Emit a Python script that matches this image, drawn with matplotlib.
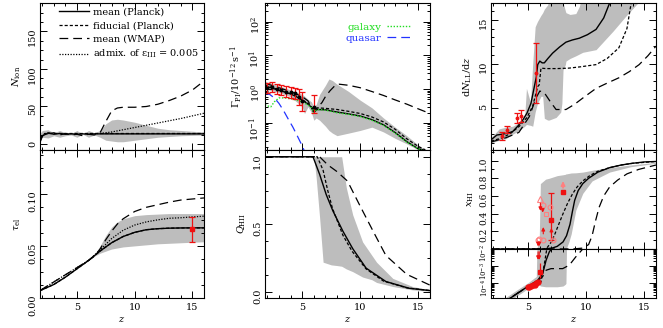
import numpy as np
import matplotlib
matplotlib.use('Agg')
import matplotlib.pyplot as plt
from matplotlib.ticker import MultipleLocator, LogLocator, NullFormatter, FixedLocator

plt.rcParams['font.family'] = 'DejaVu Serif'
plt.rcParams['mathtext.fontset'] = 'dejavuserif'
plt.rcParams['font.size'] = 7

GREY = '#bdbdbd'
RED = '#ee1111'
PINK = '#ff8080'
SD = (0, (2.5, 1.6))      # short dash (fiducial)
LD = (0, (7, 4))          # long dash (WMAP)
DT = (0, (1, 1.2))        # dotted

# ---------------- N_ion ----------------
nion_band_z = [1.8, 2.0, 2.5, 3.0, 3.5, 4.0, 4.5, 5.0, 5.5, 6.0, 6.5, 7.0, 7.5, 8.0, 8.5, 9.0, 10, 11, 12, 13, 14, 15, 16]
nion_band_hi = [14, 18, 19, 15, 18, 15, 14, 18, 13, 18, 15, 18, 27, 32, 33, 32, 29, 25, 21, 19, 18, 17, 16]
nion_band_lo = [8, 9, 8, 11, 9, 11, 12, 9, 13, 9, 12, 9, 5, 4, 3, 3, 5, 7, 9, 10, 11, 11.5, 12]
nion_mean_z = [1.8, 2.0, 2.3, 2.6, 3.0, 3.5, 4.0, 4.5, 5.0, 5.5, 6.0, 6.5, 7.0, 8, 10, 12, 14, 16]
nion_mean = [4, 11, 13, 14.5, 13, 14, 13, 13.5, 13, 13.5, 13, 13.5, 13.5, 13.5, 13.5, 13.5, 13.5, 13.5]
nion_fid_z = [1.8, 2.2, 3, 4, 5, 6, 7, 10, 16]
nion_fid = [9, 14, 14, 14, 14, 14, 14, 14, 14]
nion_wmap_z = [1.8, 2.0, 2.3, 2.7, 3.0, 3.5, 4.0, 4.5, 5.0, 5.5, 6.0, 6.5, 7.0, 7.5, 8.0, 8.5, 9, 10, 11, 12, 13, 14, 15, 16]
nion_wmap = [2, 10, 16, 14, 15, 12, 14, 12, 13, 11, 13, 12, 15, 30, 44, 48, 49, 49, 50, 53, 58, 64, 72, 84]
nion_admix_z = [7.0, 8, 10, 12, 14, 16]
nion_admix = [14, 16, 22, 28, 34, 41]

# ---------------- tau_el ----------------
tau_z = [1.8, 2.0, 3, 4, 5, 6, 7, 8, 9, 10, 11, 12, 13, 14, 15, 16]
tau_mean = [0.0072, 0.0080, 0.013, 0.020, 0.028, 0.036, 0.045, 0.053, 0.059, 0.063, 0.0655, 0.0665, 0.067, 0.0672, 0.0673, 0.0673]
tau_wmap_z = [1.8, 6.0, 6.5, 7, 7.5, 8, 8.5, 9, 10, 11, 12, 13, 14, 15, 16]
tau_wmap = [0.0072, 0.036, 0.040, 0.047, 0.056, 0.064, 0.071, 0.076, 0.083, 0.087, 0.0895, 0.092, 0.094, 0.095, 0.096]
tau_admix_z = [1.8, 6.0, 7, 8, 9, 10, 11, 12, 13, 14, 15, 16]
tau_admix = [0.0072, 0.036, 0.046, 0.057, 0.065, 0.070, 0.073, 0.075, 0.0765, 0.077, 0.0778, 0.0785]
tau_band_z = [6.5, 7, 7.5, 8, 8.5, 9, 10, 11, 12, 13, 14, 15, 16]
tau_band_hi = [0.041, 0.050, 0.060, 0.068, 0.073, 0.076, 0.079, 0.080, 0.0805, 0.081, 0.081, 0.081, 0.081]
tau_band_lo = [0.040, 0.043, 0.045, 0.047, 0.048, 0.049, 0.050, 0.051, 0.052, 0.0525, 0.053, 0.0535, 0.054]
tau_obs_z, tau_obs, tau_obs_err = [15.0], [0.066], [0.012]

# ---------------- Gamma_PI ----------------
gam_fid_z = [1.8, 2.5, 3.0, 3.5, 4.0, 4.5, 5.0, 5.5, 5.8, 6.0, 6.15, 6.3, 7, 8, 9, 10, 11, 12, 13, 14, 15, 15.6]
gam_fid = [1.3, 1.1, 0.95, 0.85, 0.74, 0.62, 0.49, 0.38, 0.3, 0.21, 0.25, 0.28, 0.27, 0.25, 0.22, 0.19, 0.15, 0.107, 0.065, 0.034, 0.02, 0.016]
gam_mean_z = [1.8, 2.5, 3.0, 3.5, 4.0, 4.5, 5.0, 5.5, 5.8, 6.0, 6.15, 6.3, 7, 8, 9, 10, 11, 12, 13, 14, 15, 15.4]
gam_mean = [1.25, 1.05, 0.92, 0.82, 0.72, 0.6, 0.47, 0.36, 0.29, 0.2, 0.23, 0.25, 0.245, 0.21, 0.185, 0.16, 0.125, 0.088, 0.052, 0.028, 0.017, 0.016]
gam_gal_z = [1.8, 2.0, 2.3, 2.6, 3.0, 3.5, 4.0, 4.5, 5.0, 5.5, 5.8, 6.0, 6.15, 6.3, 7, 8, 9, 10, 11, 12, 13, 14, 15, 15.3]
gam_gal = [0.35, 0.32, 0.30, 0.42, 0.55, 0.55, 0.52, 0.48, 0.42, 0.34, 0.28, 0.2, 0.23, 0.25, 0.24, 0.2, 0.18, 0.155, 0.12, 0.085, 0.05, 0.027, 0.017, 0.016]
gam_qso_z = [1.8, 2.2, 2.6, 3.0, 3.4, 3.8, 4.2, 4.6, 5.0, 5.3]
gam_qso = [0.75, 0.7, 0.55, 0.38, 0.23, 0.13, 0.075, 0.04, 0.021, 0.012]
gam_wmap_z = [1.8, 3, 4, 5, 5.5, 6.0, 6.3, 6.7, 7.0, 7.4, 7.8, 8.2, 9, 10, 11, 12, 13, 14, 15, 16]
gam_wmap = [1.5, 1.1, 0.85, 0.6, 0.45, 0.22, 0.28, 0.4, 0.6, 0.9, 1.25, 1.4, 1.3, 1.1, 0.85, 0.65, 0.48, 0.36, 0.26, 0.19]
gam_band_z = [1.8, 3, 4, 5, 5.2, 5.5, 5.8, 6.0, 6.2, 6.5, 7.0, 7.3, 7.6, 8.0, 9, 10, 11, 12, 13, 14, 15, 15.6]
gam_band_hi = [1.7, 1.25, 0.95, 0.7, 0.62, 0.5, 0.42, 0.3, 0.35, 0.7, 1.3, 2.0, 1.8, 1.4, 0.85, 0.47, 0.28, 0.14, 0.075, 0.042, 0.022, 0.016]
gam_band_lo = [1.0, 0.8, 0.6, 0.3, 0.19, 0.3, 0.2, 0.12, 0.14, 0.12, 0.08, 0.06, 0.05, 0.042, 0.05, 0.06, 0.075, 0.054, 0.035, 0.024, 0.016, 0.016]
gam_obs_z = [1.95, 2.4, 2.8, 3.2, 3.6, 4.0, 4.4, 4.75, 5.0, 6.0]
gam_obs = [1.1, 1.15, 0.98, 0.95, 0.85, 0.8, 0.78, 0.6, 0.45, 0.3]
gam_obs_lo = [0.75, 0.8, 0.7, 0.65, 0.6, 0.55, 0.5, 0.35, 0.22, 0.2]
gam_obs_hi = [1.5, 1.6, 1.4, 1.3, 1.2, 1.15, 1.1, 1.0, 0.8, 0.65]

# ---------------- Q_HII ----------------
q_mean_z = [1.8, 5.93, 6.5, 7.07, 7.64, 8.5, 9.35, 10.5, 12.2, 14.2, 16]
q_mean = [1.0, 1.0, 0.87, 0.72, 0.60, 0.45, 0.32, 0.176, 0.077, 0.027, 0.01]
q_fid_z = [1.8, 6.3, 6.8, 7.2, 7.6, 8.5, 9.3, 10.5, 12, 14, 16]
q_fid = [1.0, 1.0, 0.9, 0.75, 0.62, 0.42, 0.3, 0.17, 0.08, 0.03, 0.01]
q_wmap_z = [1.8, 6.5, 7.2, 8.0, 8.9, 9.9, 11.1, 12.2, 14.0, 16]
q_wmap = [1.0, 1.0, 0.94, 0.89, 0.82, 0.65, 0.45, 0.27, 0.13, 0.05]
q_band_z = [6.0, 6.2, 6.5, 6.8, 7.5, 8.0, 8.4, 8.8, 9.35, 10.2, 11.0, 11.4, 12.8, 14.5, 16]
q_band_lo = [1.0, 0.85, 0.55, 0.22, 0.20, 0.195, 0.19, 0.17, 0.15, 0.11, 0.09, 0.07, 0.04, 0.015, 0.005]
q_band_hi = [1.0, 1, 1, 1, 1, 1, 1, 0.77, 0.57, 0.37, 0.27, 0.22, 0.10, 0.04, 0.015]

# ---------------- dN_LL/dz ----------------
dn_mean_z = [1.8, 2.3, 2.8, 3.2, 3.67, 4.1, 4.53, 4.9, 5.24, 5.53, 5.7, 5.82, 6.0, 6.2, 6.39, 6.7, 7.1, 7.7, 8.25, 8.8, 9.4, 10.1, 10.84, 11.5, 12.1]
dn_mean = [1.35, 1.9, 2.0, 2.1, 2.3, 2.9, 3.6, 4.4, 5.5, 7.4, 8.5, 9.9, 10.3, 10.1, 10.1, 10.6, 11.2, 11.9, 12.45, 12.7, 12.9, 13.3, 13.9, 15.2, 17.2]
dn_fid_z = [1.8, 2.8, 3.5, 4.24, 4.9, 5.39, 5.82, 5.95, 6.1, 6.5, 7.5, 8.5, 9.5, 10.84, 11.8, 12.8, 13.5, 13.9]
dn_fid = [1.2, 1.6, 2.1, 2.9, 3.9, 5.2, 7.4, 7.6, 9.5, 9.45, 9.45, 9.5, 9.65, 9.9, 10.6, 11.8, 14.0, 17.2]
dn_wmap_z = [1.8, 3.1, 4.2, 5.1, 5.67, 6.0, 6.39, 6.9, 7.4, 8.25, 9.0, 9.7, 10.84, 11.8, 12.8, 13.7, 14.55, 15.3, 16]
dn_wmap = [1.1, 1.6, 2.2, 4.0, 6.1, 6.9, 6.7, 5.7, 4.8, 4.8, 5.4, 6.1, 7.2, 7.8, 8.4, 9.1, 9.9, 10.9, 12.0]
dn_band_z = [1.8, 2.5, 3.1, 3.67, 4.2, 4.7, 4.85, 5.2, 5.39, 5.6, 5.8, 6.1, 6.25, 6.39, 6.68, 6.8, 7.4, 7.8, 7.9, 8.0, 8.2, 8.25, 8.6, 9.1, 9.4, 9.7, 10.84, 12.3, 13.4, 14.3, 16]
dn_band_hi = [1.6, 2.6, 2.8, 2.9, 3.3, 4.0, 7.2, 5.6, 10.0, 14.2, 14.8, 15.5, 15.8, 16.2, 16.7, 17.5, 18, 18, 18, 17, 16, 15.8, 15.6, 15.7, 16.5, 18, 18, 18, 18, 18, 18]
dn_band_lo = [1.0, 1.3, 1.5, 2.0, 2.4, 2.9, 3.1, 3.0, 2.9, 4.5, 5.5, 6.3, 6.3, 3.8, 3.6, 3.6, 3.9, 4.5, 5.5, 9.3, 9.9, 10.3, 10.6, 10.9, 11.1, 11.3, 11.6, 13.7, 15.4, 16.7, 19]
dn_obs_z = [2.72, 3.15, 4.0, 4.39, 5.67]
dn_obs = [1.8, 2.5, 3.8, 4.1, 9.0]
dn_obs_lo = [1.35, 2.1, 3.3, 3.4, 5.5]
dn_obs_hi = [2.2, 2.9, 4.4, 4.75, 12.3]

# ---------------- x_HI ----------------
xh_mean_z = [1.8, 2.5, 3.38, 4.24, 5.1, 5.82, 6.25, 6.54, 6.82, 7.1, 7.5, 8.0, 8.3, 8.6, 8.8, 9.0, 9.3, 9.7, 10.2, 11, 12, 13, 14, 15, 16]
xh_mean = [2.5e-6, 5e-6, 1.26e-5, 3.1e-5, 7.6e-5, 1.5e-4, 3.7e-4, 2.2e-3, 6.9e-3, 0.012, 0.03, 0.08, 0.15, 0.28, 0.42, 0.55, 0.66, 0.74, 0.80, 0.87, 0.92, 0.95, 0.97, 0.985, 0.99]
xh_fid_z = [1.8, 3.4, 4.2, 5.1, 5.8, 6.1, 6.4, 6.6, 7.0, 7.3, 7.6, 8.0, 8.4, 8.8, 9.2, 9.7, 10.3, 11, 12, 13, 14, 16]
xh_fid = [2.5e-6, 1.3e-5, 3e-5, 7.5e-5, 1.1e-4, 1.2e-4, 1.45e-3, 0.01, 0.08, 0.17, 0.27, 0.40, 0.52, 0.62, 0.70, 0.77, 0.83, 0.88, 0.92, 0.95, 0.97, 0.99]
xh_wmap_z = [1.8, 3.4, 4.2, 5.1, 5.7, 6.25, 6.54, 6.97, 7.5, 7.97, 8.54, 9.1, 9.7, 10.2, 10.5, 10.8, 11.1, 11.5, 12, 12.7, 13.5, 14.5, 16]
xh_wmap = [2.5e-6, 1.3e-5, 3e-5, 6.3e-5, 1.2e-4, 2.5e-4, 5.8e-4, 7.2e-4, 7.2e-4, 7.2e-4, 1.15e-3, 3.5e-3, 0.01, 0.05, 0.15, 0.32, 0.47, 0.60, 0.70, 0.78, 0.85, 0.90, 0.95]
xh_band_z = [1.8, 3.0, 4.0, 5.0, 5.5, 5.7, 5.75, 5.95, 6.05, 6.5, 6.8, 7.5, 8.0, 8.2, 8.25, 8.3, 8.5, 8.7, 9.1, 9.7, 10.5, 12, 13.8, 16]
xh_band_lo = [1.6e-6, 6.3e-6, 1.8e-5, 5e-5, 7.9e-5, 8.5e-5, 8.5e-5, 7.9e-5, 7e-5, 6.3e-5, 6.3e-5, 6.3e-5, 7e-5, 8.9e-5, 1e-4, 0.01, 0.08, 0.17, 0.44, 0.63, 0.77, 0.87, 0.93, 0.97]
xh_band_hi = [4e-6, 1.4e-5, 4e-5, 1.1e-4, 2e-4, 2.5e-4, 0.01, 0.1, 0.74, 0.79, 0.80, 0.83, 0.84, 0.845, 0.85, 0.85, 0.855, 0.86, 0.862, 0.87, 0.89, 0.92, 0.95, 0.98]
# observational constraints
xh_fan_z = [4.95, 5.1, 5.25, 5.4, 5.55, 5.7, 5.85]
xh_fan = [6.0e-5, 6.3e-5, 6.8e-5, 7.5e-5, 8.5e-5, 1.0e-4, 1.2e-4]
xh_sq_z = [6.0]
xh_sq = [4.7e-4]
xh_sq_lo = [2.0e-4]
xh_sq_hi = [1.5e-3]
xh_lin_sq_z = [7.0, 8.0]
xh_lin_sq = [0.33, 0.65]
xh_oc_z = [5.85, 5.95, 6.25, 6.3, 6.9, 7.1]
xh_oc = [0.10, 0.11, 0.50, 0.10, 0.48, 0.10]
xh_os_z, xh_os = [6.5], [0.40]
xh_tri_z, xh_tri = [6.05], [0.57]

# ================= figure =================
fig = plt.figure(figsize=(6.63, 3.28), dpi=100)
W, H = 663., 328.


def box(x0, y0, x1, y1):
    return [x0 / W, 1 - y1 / H, (x1 - x0) / W, (y1 - y0) / H]


ax_n = fig.add_axes(box(40, 3, 204, 150))
ax_t = fig.add_axes(box(40, 150, 204, 298))
ax_g = fig.add_axes(box(265, 3, 430, 150))
ax_q = fig.add_axes(box(265, 150, 430, 298))
ax_d = fig.add_axes(box(491, 3, 656, 150))
ax_x = fig.add_axes(box(491, 150, 656, 249))
ax_l = fig.add_axes(box(491, 249, 656, 298))

for ax in [ax_n, ax_t, ax_g, ax_q, ax_d, ax_x, ax_l]:
    ax.set_xlim(1.8, 16)
    ax.xaxis.set_major_locator(MultipleLocator(5))
    ax.xaxis.set_minor_locator(MultipleLocator(1))
    ax.tick_params(which='both', direction='in', top=True, right=True, width=0.7)
    ax.tick_params(which='major', length=5)
    ax.tick_params(which='minor', length=2.5)
    ax.tick_params(axis='y', labelrotation=90, pad=2)
    for s in ax.spines.values():
        s.set_linewidth(0.8)
for ax in [ax_n, ax_g, ax_d, ax_x]:
    ax.tick_params(labelbottom=False)

# ---- N_ion ----
ax = ax_n
ax.fill_between(nion_band_z, nion_band_lo, nion_band_hi, color=GREY, lw=0)
l1, = ax.plot(nion_mean_z, nion_mean, 'k-', lw=1.0, label='mean (Planck)')
l2, = ax.plot(nion_fid_z, nion_fid, color='k', ls=SD, lw=0.9, label='fiducial (Planck)')
l3, = ax.plot(nion_wmap_z, nion_wmap, color='k', ls=LD, lw=0.9, label='mean (WMAP)')
l4, = ax.plot(nion_admix_z, nion_admix, color='k', ls=DT, lw=0.9,
              label='admix. of ε$_{\\rm III}$ = 0.005')
ax.set_ylim(-8, 188)
ax.yaxis.set_major_locator(MultipleLocator(50))
ax.yaxis.set_minor_locator(MultipleLocator(12.5))
ax.set_ylabel(r'$N_{\rm ion}$')
ax.legend(handles=[l1, l2, l3, l4], loc='upper right', frameon=False,
          handlelength=3.0, fontsize=7, labelspacing=0.45, borderaxespad=0.1,
          handletextpad=0.5)

# ---- tau ----
ax = ax_t
ax.fill_between(tau_band_z, tau_band_lo, tau_band_hi, color=GREY, lw=0)
ax.plot(tau_z, tau_mean, 'k-', lw=1.0)
ax.plot(tau_z, tau_mean, color='k', ls=SD, lw=0.9)
ax.plot(tau_wmap_z, tau_wmap, color='k', ls=LD, lw=0.9)
ax.plot(tau_admix_z, tau_admix, color='k', ls=DT, lw=0.9)
ax.errorbar(tau_obs_z, tau_obs, yerr=tau_obs_err, fmt='s', color=RED, ms=2.5,
            capsize=2.5, lw=0.9, capthick=0.9)
ax.set_ylim(0, 0.142)
ax.yaxis.set_major_locator(FixedLocator([0, 0.05, 0.10]))
ax.yaxis.set_minor_locator(MultipleLocator(0.0125))
ax.set_yticklabels(['0.00', '0.05', '0.10'])
ax.set_ylabel(r'$\tau_{\rm el}$')
ax.set_xlabel(r'$z$', labelpad=2)

# ---- Gamma ----
ax = ax_g
ax.set_yscale('log')
ax.fill_between(gam_band_z, gam_band_lo, gam_band_hi, color=GREY, lw=0)
ax.plot(gam_mean_z, gam_mean, 'k-', lw=1.0)
ax.plot(gam_fid_z, gam_fid, color='k', ls=SD, lw=0.9)
ax.plot(gam_wmap_z, gam_wmap, color='k', ls=LD, lw=0.9)
lg, = ax.plot(gam_gal_z, gam_gal, color='#22dd22', ls=DT, lw=1.0, label='galaxy')
lq, = ax.plot(gam_qso_z, gam_qso, color='#2233ff', ls=LD, lw=0.9, label='quasar')
g_err = [np.subtract(gam_obs, gam_obs_lo), np.subtract(gam_obs_hi, gam_obs)]
ax.errorbar(gam_obs_z, gam_obs, yerr=g_err, fmt='none', ecolor=RED, capsize=2,
            lw=0.9, capthick=0.9)
ax.plot(gam_obs_z, gam_obs, 'o', color='k', ms=1.8)
ax.set_ylim(0.0158, 355)
ax.yaxis.set_major_locator(LogLocator(base=10, numticks=10))
ax.yaxis.set_minor_locator(LogLocator(base=10, subs=np.arange(2, 10), numticks=20))
ax.yaxis.set_minor_formatter(NullFormatter())
ax.set_ylabel(r'$\Gamma_{\rm PI}/10^{-12}\,{\rm s}^{-1}$', labelpad=2)
leg = ax.legend(handles=[lg, lq], loc='upper right', frameon=False, markerfirst=False,
                handlelength=2.3, fontsize=7.5, labelspacing=0.15, handletextpad=0.5,
                bbox_to_anchor=(0.94, 0.93))
for t, c in zip(leg.get_texts(), ['#22dd22', '#2233ff']):
    t.set_color(c)

# ---- Q_HII ----
ax = ax_q
ax.fill_between(q_band_z, q_band_lo, q_band_hi, color=GREY, lw=0)
ax.plot(q_mean_z, q_mean, 'k-', lw=1.0)
ax.plot(q_fid_z, q_fid, color='k', ls=SD, lw=0.9)
ax.plot(q_wmap_z, q_wmap, color='k', ls=LD, lw=0.9)
ax.set_ylim(-0.045, 1.05)
ax.yaxis.set_major_locator(FixedLocator([0, 0.5, 1.0]))
ax.set_yticklabels(['0.0', '0.5', '1.0'])
ax.yaxis.set_minor_locator(MultipleLocator(0.125))
ax.set_ylabel(r'$Q_{\rm HII}$')
ax.set_xlabel(r'$z$', labelpad=2)

# ---- dN_LL/dz ----
ax = ax_d
ax.fill_between(dn_band_z, dn_band_lo, dn_band_hi, color=GREY, lw=0)
ax.plot(dn_mean_z, dn_mean, 'k-', lw=1.0)
ax.plot(dn_fid_z, dn_fid, color='k', ls=SD, lw=0.9)
ax.plot(dn_wmap_z, dn_wmap, color='k', ls=LD, lw=0.9)
d_err = [np.subtract(dn_obs, dn_obs_lo), np.subtract(dn_obs_hi, dn_obs)]
ax.errorbar(dn_obs_z, dn_obs, yerr=d_err, fmt='o', color=RED, ms=1.8, capsize=2,
            lw=0.9, capthick=0.9)
ax.set_ylim(0.2, 16.9)
ax.yaxis.set_major_locator(FixedLocator([5, 10, 15]))
ax.yaxis.set_minor_locator(MultipleLocator(1))
ax.set_ylabel(r'${\rm d}N_{\rm LL}/{\rm d}z$')

# ---- x_HI linear + log ----
for ax in [ax_x, ax_l]:
    ax.fill_between(xh_band_z, xh_band_lo, xh_band_hi, color=GREY, lw=0)
    ax.plot(xh_mean_z, xh_mean, 'k-', lw=1.0)
    ax.plot(xh_fid_z, xh_fid, color='k', ls=SD, lw=0.9)
    ax.plot(xh_wmap_z, xh_wmap, color='k', ls=LD, lw=0.9)

ax = ax_x
ax.set_ylim(0.0, 1.12)
ax.yaxis.set_major_locator(FixedLocator([0.2, 0.4, 0.6, 0.8, 1.0]))
ax.yaxis.set_minor_locator(MultipleLocator(0.1))
ax.set_yticklabels(['0.2', '0.4', '0.6', '0.8', '1.0'])
ax.tick_params(axis='y', labelsize=6.5)
ax.set_ylabel(r'$x_{\rm HI}$', labelpad=2)
sq_err = [[0.33 - 0.10], [0.63 - 0.33]]
ax.errorbar(xh_lin_sq_z[:1], xh_lin_sq[:1], yerr=sq_err, fmt='s', color=RED, ms=3,
            capsize=2, lw=0.9, capthick=0.9)
ax.plot(xh_lin_sq_z[1:], xh_lin_sq[1:], 's', color=RED, ms=3.5)
ax.annotate('', xy=(8.0, 0.80), xytext=(8.0, 0.66),
            arrowprops=dict(arrowstyle='-|>', color=PINK, lw=1.2, mutation_scale=6))
ax.plot(xh_oc_z, xh_oc, 'o', mfc='none', mec=PINK, ms=3.5, mew=0.8)
ax.plot(xh_os_z, xh_os, 's', mfc='none', mec=PINK, ms=3.5, mew=0.8)
ax.plot(xh_tri_z, xh_tri, '^', mfc='none', mec=PINK, ms=4, mew=0.8)
for zz, y0, y1 in [(6.05, 0.55, 0.40), (6.25, 0.48, 0.38), (5.85, 0.09, 0.0),
                   (5.95, 0.10, 0.0), (6.3, 0.14, 0.28), (7.0, 0.14, 0.27)]:
    ax.annotate('', xy=(zz, y1), xytext=(zz, y0),
                arrowprops=dict(arrowstyle='-|>', color=RED, lw=0.8, mutation_scale=5))

ax = ax_l
ax.set_yscale('log')
ax.set_ylim(1.4e-5, 1e-2)
ax.yaxis.set_major_locator(FixedLocator([1e-4, 1e-3, 1e-2]))
ax.yaxis.set_minor_locator(LogLocator(base=10, subs=np.arange(2, 10), numticks=20))
ax.yaxis.set_minor_formatter(NullFormatter())
ax.tick_params(axis='y', labelsize=5, pad=1)
ax.plot(xh_fan_z, xh_fan, 'o', color=RED, ms=3.5)
s_err = [np.subtract(xh_sq, xh_sq_lo), np.subtract(xh_sq_hi, xh_sq)]
ax.errorbar(xh_sq_z, xh_sq, yerr=s_err, fmt='s', color=RED, ms=2.5, lw=0.9)
for zz in [5.85, 5.95]:
    ax.annotate('', xy=(zz, 1.6e-3), xytext=(zz, 1e-2),
                arrowprops=dict(arrowstyle='-|>', color=RED, lw=0.8, mutation_scale=5))
ax.set_xlabel(r'$z$', labelpad=2)

fig.savefig('out.png', dpi=100)
